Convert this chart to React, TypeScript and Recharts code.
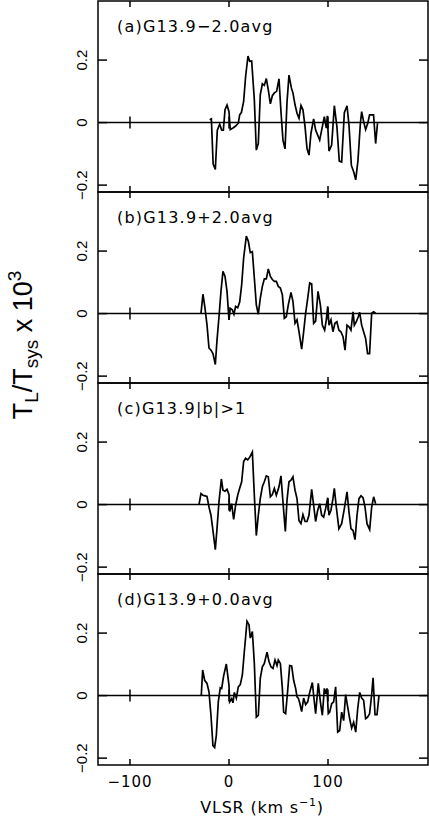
import { LineChart, Line, XAxis, YAxis, ReferenceLine, ReferenceArea } from 'recharts';

// shared axes
const xTicks = [-100, 0, 100];
const yTicks = [-0.2, 0, 0.2];
const xDomain = [-132.3, 201];
const yDomain = [-0.222, 0.389];

const panelLabels = ['(a)G13.9\u22122.0avg', '(b)G13.9+2.0avg', '(c)G13.9|b|>1', '(d)G13.9+0.0avg'];

// (a) G13.9-2.0avg
const velA = [-19.5, -17.8, -16, -13.8, -11.8, -9.4, -7.4, -5.7, -4, -2, 0, 1.3, 4, 6.7, 9.4, 10.8, 12.5, 14.8, 16.8, 19.2, 20.9, 22.9, 25.6, 27.6, 29.6, 31.6, 33.7, 35.7, 37.7, 39.7, 41.8, 43.8, 45.8, 48.1, 50.5, 52.5, 54.5, 56.6, 58.6, 60.6, 63, 64.6, 66.7, 68.7, 70.7, 72.7, 74.7, 76.8, 78.8, 80.8, 82.8, 85.5, 87.5, 89.6, 91.6, 93.6, 96.3, 98.3, 99.3, 101, 103.7, 106.4, 109, 111.4, 113.8, 116.5, 119.2, 121.2, 123.6, 126, 128, 130.3, 132.7, 134, 136, 138, 140, 142, 144.8, 146, 148.1, 150];
const valA = [0.009, 0.012, -0.133, -0.15, -0.024, -0.005, -0.024, -0.024, 0.041, 0.056, 0.035, -0.022, -0.017, -0.011, -0.002, 0.025, 0.032, 0.068, 0.148, 0.213, 0.196, 0.197, 0.073, -0.088, -0.067, 0.089, 0.124, 0.119, 0.141, 0.105, 0.06, 0.086, 0.095, 0.1, 0.14, 0.035, -0.056, -0.084, 0.066, 0.152, 0.111, 0.095, 0.057, 0.03, 0.014, 0.055, 0.041, -0.013, -0.083, -0.104, -0.034, 0.012, -0.024, -0.04, -0.056, -0.024, 0.019, -0.018, 0.022, -0.091, -0.072, 0.054, -0.013, -0.123, -0.126, 0.032, 0.054, -0.008, -0.137, -0.158, -0.183, -0.12, -0.002, 0.035, 0.003, -0.022, -0.004, 0.025, 0.025, 0.025, -0.067, -0.002];

// (b) G13.9+2.0avg
const velB = [-28.3, -26.3, -24.2, -22.2, -20.2, -18.2, -16.2, -13.8, -12.1, -10.1, -8.1, -6.1, -4, -2, 0, 1.3, 3.4, 5, 6.7, 8.8, 10.8, 12.8, 14.8, 17.5, 19.5, 21.5, 23.6, 25.6, 27.6, 29.6, 31.6, 33.7, 35.7, 37.7, 39.7, 41.8, 43.8, 45.8, 47.8, 49.8, 51.9, 53.9, 55.9, 57.9, 59.9, 62.6, 64.6, 66.7, 68.7, 70.7, 73.4, 75.4, 77.4, 79.5, 81.5, 83.5, 85.5, 87.5, 89.9, 92.3, 94.3, 96.6, 98.3, 99.7, 101, 103, 105, 107, 109, 111, 113, 115.2, 117.2, 119.2, 121.2, 123.2, 125.3, 126.6, 128.6, 130.6, 132, 134, 136, 138, 140, 142, 144.1, 146.1, 148.1];
const valB = [0, 0.062, 0.017, -0.037, -0.11, -0.117, -0.128, -0.163, -0.085, -0.01, 0.071, 0.135, 0.119, 0.071, -0.02, 0.017, 0.012, -0.002, 0.023, 0.019, 0.037, 0.092, 0.178, 0.248, 0.232, 0.195, 0.198, 0.114, 0.028, -0.002, 0.049, 0.087, 0.111, 0.111, 0.143, 0.119, 0.109, 0.103, 0.103, 0.087, 0.082, 0.06, -0.015, -0.01, 0.028, 0.068, 0.039, -0.031, -0.02, -0.058, -0.114, -0.058, 0.001, 0.049, 0.098, 0.095, -0.031, -0.024, 0.071, 0.028, -0.037, -0.053, -0.02, 0.023, -0.037, -0.02, -0.058, -0.031, -0.026, -0.053, -0.058, -0.074, -0.117, -0.037, -0.042, -0.053, 0.006, -0.037, -0.026, -0.01, 0.004, -0.037, -0.058, -0.08, -0.128, -0.128, 0.001, 0.006, 0.001];

// (c) G13.9 |b|>1
const velC = [-30.3, -28.3, -26.3, -24.2, -22.2, -20.2, -18.2, -16.2, -13.8, -12.1, -10.1, -7.7, -6.1, -4, -2, 0, 0.7, 2.7, 4.7, 6.7, 8.8, 10.8, 12.8, 14.8, 16.8, 18.9, 20.9, 23.6, 25.6, 27.6, 29.6, 31.6, 33.7, 35.7, 37.7, 39.7, 41.8, 43.8, 45.8, 47.8, 50.5, 52.5, 54.5, 56.9, 58.6, 60.6, 62.6, 64.6, 66.7, 68.7, 70.7, 72.7, 74.7, 76.8, 78.8, 80.8, 83.5, 85.5, 87.5, 89.6, 91.6, 93.6, 95.6, 97.6, 99.7, 101, 103, 105, 106.4, 108.4, 111, 113.8, 116.5, 119.2, 121.2, 123.2, 125.3, 127.3, 129.3, 131.3, 133.3, 135.4, 137.4, 139.4, 142.1, 144.1, 146.1, 148.1];
const valC = [0, 0.035, 0.03, 0.028, 0.026, -0.008, -0.034, -0.083, -0.144, -0.077, 0.009, 0.082, 0.046, 0.043, 0.049, 0.032, -0.022, 0.003, -0.047, -0.002, 0.03, 0.052, 0.073, 0.138, 0.148, 0.143, 0.151, 0.168, 0.03, -0.099, -0.034, 0.019, 0.057, 0.073, 0.092, 0.089, 0.025, 0.032, 0.052, 0.03, 0.057, 0.092, 0.009, -0.086, 0.014, 0.073, 0.078, 0.089, 0.046, 0.019, -0.051, -0.061, -0.032, -0.054, -0.054, -0.034, 0.049, -0.002, -0.054, -0.018, 0.003, -0.034, -0.04, -0.013, 0.022, -0.034, -0.018, 0.019, 0.052, -0.008, -0.077, -0.061, -0.013, 0.041, -0.024, -0.077, -0.083, -0.112, -0.034, 0.019, 0.028, 0.022, -0.008, -0.061, -0.08, -0.008, 0.025, 0.003];

// (d) G13.9+0.0avg
const velD = [-28, -26.6, -24.6, -22.2, -20.2, -18.2, -16.2, -14.5, -12.8, -10.8, -8.8, -7.4, -5.4, -2.7, 0, 0.7, 2.7, 4, 5.4, 7.4, 9.4, 11.4, 13.5, 15.5, 18.2, 20.2, 21.5, 23.6, 25.6, 27.6, 29.6, 31.6, 33.7, 35.7, 38.4, 40.4, 42.4, 44.4, 46.5, 48.5, 49.8, 51.9, 53.9, 55.2, 57.2, 59.3, 61.3, 63.3, 65.3, 67.3, 68.7, 70, 71.4, 73.4, 75.4, 77.4, 79.5, 81.5, 84.2, 85.5, 87.5, 90.2, 92.3, 94.3, 96.3, 97.6, 99, 100.3, 101.7, 103.7, 105.7, 107.7, 109.8, 111.8, 113.8, 115.8, 117.8, 119.9, 121.9, 123.9, 125.9, 128, 130, 132, 134, 136, 138, 140, 142, 144.1, 145.5, 147.5, 149.5, 151.5];
const valD = [0, 0.082, 0.049, 0.039, 0.012, -0.063, -0.16, -0.166, -0.128, -0.02, 0.025, 0.023, 0.063, 0.101, 0.033, -0.02, -0.01, -0.023, 0.01, -0.008, 0.028, 0.035, 0.066, 0.141, 0.238, 0.227, 0.184, 0.205, 0.103, -0.069, -0.063, 0.055, 0.092, 0.103, 0.139, 0.109, 0.092, 0.087, 0.114, 0.096, 0.114, 0.103, 0.023, -0.053, -0.058, 0.017, 0.096, 0.095, 0.049, 0.023, -0.004, -0.008, -0.023, -0.051, -0.008, -0.029, -0.02, 0.01, 0.042, 0.001, -0.058, 0.039, -0.02, -0.063, 0.023, 0.006, 0.023, -0.058, -0.053, -0.026, -0.02, 0.028, -0.117, -0.112, -0.053, -0.08, 0.003, -0.037, -0.074, -0.104, -0.085, -0.117, -0.042, 0.01, -0.008, -0.015, -0.074, -0.069, -0.058, 0.003, 0.057, -0.061, -0.061, 0.001];

const zip = (v: number[], t: number[]) =>
  v.slice(0, Math.min(v.length, t.length)).map((x, i) => ({ v: x, t: t[i] }));

const panels = [zip(velA, valA), zip(velB, valB), zip(velC, valC), zip(velD, valD)];

const W = 429;
const LEFT = 98;
const RIGHT = 1;
const PLOT_H = 191;
const PAD = 10;
const XAXIS_H = 51;
const TOP0 = 1;
const plotW = W - LEFT - RIGHT;

// tick lengths in data units (y ticks 9px, x ticks 6px)
const yTickLen = (9 * (xDomain[1] - xDomain[0])) / plotW;
const xTickLen = (6 * (yDomain[1] - yDomain[0])) / PLOT_H;

const fmt = (v: number) => (v < 0 ? '\u2212' + Math.abs(v) : String(v));

function YTick(props: any) {
  const { x, y, payload } = props;
  return (
    <text
      x={x}
      y={y}
      transform={`rotate(-90 ${x} ${y})`}
      textAnchor="middle"
      fontSize={15}
      fontFamily="Liberation Sans, Arial, sans-serif"
      fill="#000"
    >
      {fmt(payload.value)}
    </text>
  );
}

const ink = { stroke: '#000', strokeWidth: 1.5 };

function Panel({ data, last }: { data: { v: number; t: number }[]; last: boolean }) {
  return (
    <LineChart
      width={W}
      height={PAD + PLOT_H + (last ? XAXIS_H : PAD)}
      data={data}
      margin={{ top: PAD, right: RIGHT, bottom: last ? 0 : PAD, left: 0 }}
    >
      <XAxis
        xAxisId="b"
        dataKey="v"
        type="number"
        domain={xDomain}
        allowDataOverflow
        ticks={xTicks}
        interval={0}
        hide={!last}
        height={XAXIS_H}
        axisLine={false}
        tickLine={false}
        tickSize={0}
        tickMargin={11}
        tick={{ fill: '#000', fontSize: 15, fontFamily: 'DejaVu Sans', letterSpacing: 1 }}
        tickFormatter={fmt}
      />
      <YAxis
        yAxisId="l"
        type="number"
        domain={yDomain}
        allowDataOverflow
        ticks={yTicks}
        interval={0}
        width={LEFT}
        axisLine={false}
        tickLine={false}
        tickSize={0}
        tickMargin={11}
        tick={<YTick />}
      />
      <ReferenceArea
        xAxisId="b"
        yAxisId="l"
        x1={xDomain[0]}
        x2={xDomain[1]}
        y1={yDomain[0]}
        y2={yDomain[1]}
        fill="none"
        fillOpacity={0}
        strokeOpacity={1}
        {...ink}
      />
      {xTicks.map((t) => (
        <ReferenceLine key={'b' + t} xAxisId="b" yAxisId="l" {...ink}
          segment={[{ x: t, y: yDomain[0] }, { x: t, y: yDomain[0] + xTickLen }]} />
      ))}
      {xTicks.map((t) => (
        <ReferenceLine key={'t' + t} xAxisId="b" yAxisId="l" {...ink}
          segment={[{ x: t, y: yDomain[1] }, { x: t, y: yDomain[1] - xTickLen }]} />
      ))}
      {yTicks.map((t) => (
        <ReferenceLine key={'l' + t} xAxisId="b" yAxisId="l" {...ink}
          segment={[{ x: xDomain[0], y: t }, { x: xDomain[0] + yTickLen, y: t }]} />
      ))}
      {yTicks.map((t) => (
        <ReferenceLine key={'r' + t} xAxisId="b" yAxisId="l" {...ink}
          segment={[{ x: xDomain[1], y: t }, { x: xDomain[1] - yTickLen, y: t }]} />
      ))}
      <ReferenceLine xAxisId="b" yAxisId="l" y={0} {...ink} />
      {xTicks.map((t) => (
        <ReferenceLine key={'z' + t} xAxisId="b" yAxisId="l" {...ink}
          segment={[{ x: t, y: -xTickLen }, { x: t, y: xTickLen }]} />
      ))}
      <Line
        xAxisId="b"
        yAxisId="l"
        dataKey="t"
        type="linear"
        stroke="#000"
        strokeWidth={1.7}
        dot={false}
        isAnimationActive={false}
      />
    </LineChart>
  );
}

export default function App() {
  const tops = panels.map((_, i) => TOP0 + i * PLOT_H);
  return (
    <div
      style={{
        position: 'absolute',
        left: 0,
        top: 0,
        width: W,
        height: 816,
        background: '#fff',
        overflow: 'hidden',
        fontFamily: 'DejaVu Sans, sans-serif',
      }}
    >
      {panels.map((d, i) => (
        <div key={i} style={{ position: 'absolute', left: 0, top: tops[i] - PAD }}>
          <Panel data={d} last={i === panels.length - 1} />
        </div>
      ))}
      <svg
        width={W}
        height={816}
        style={{ position: 'absolute', left: 0, top: 0, pointerEvents: 'none' }}
      >
        {panelLabels.map((s, i) => (
          <text
            key={s}
            x={117}
            y={tops[i] + 31}
            fontSize={16}
            letterSpacing={1.2}
            fontFamily="DejaVu Sans"
            fill="#000"
          >
            {s}
          </text>
        ))}
        <text
          x={32}
          y={345}
          transform="rotate(-90 32 345)"
          textAnchor="middle"
          fontFamily="Liberation Sans, Arial, sans-serif"
          fontSize={27}
          fill="#000"
        >
          T<tspan fontSize={19} dy={6}>L</tspan>
          <tspan dy={-6}>/T</tspan>
          <tspan fontSize={19} dy={6}>sys</tspan>
          <tspan dy={-6}> x 10</tspan>
          <tspan fontSize={19} dy={-11}>3</tspan>
        </text>
        <text
          x={262}
          y={813}
          textAnchor="middle"
          fontFamily="DejaVu Sans"
          fontSize={16}
          letterSpacing={0.8}
          fill="#000"
        >
          VLSR (km s<tspan fontSize={11} dy={-7}>{'\u22121'}</tspan>
          <tspan dy={7}>)</tspan>
        </text>
      </svg>
    </div>
  );
}
